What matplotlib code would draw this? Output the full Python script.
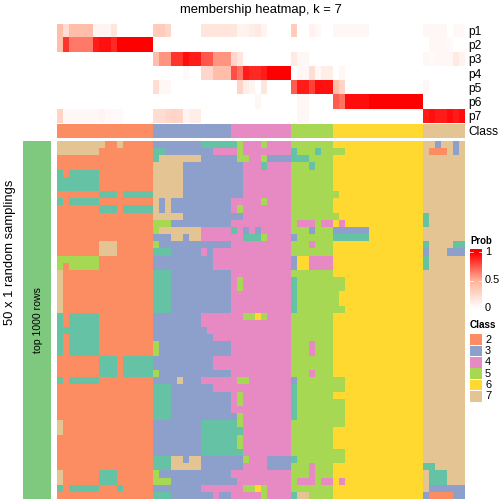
import numpy as np
import matplotlib
matplotlib.use("Agg")
import matplotlib.pyplot as plt
from matplotlib.colors import ListedColormap, LinearSegmentedColormap
from matplotlib.patches import Rectangle

plt.rcParams['font.family'] = ['Liberation Sans', 'DejaVu Sans']

TITLE = "membership heatmap, k = 7"
PROB_NAMES = ["p1", "p2", "p3", "p4", "p5", "p6", "p7"]
CLASS_IDS = [2, 3, 4, 5, 6, 7]
CLASS_COUNTS = [16, 13, 10, 7, 15, 7]
CLASS_COLORS = {1: "#66C2A5", 2: "#FC8D62", 3: "#8DA0CB", 4: "#E78AC3",
                5: "#A6D854", 6: "#FFD92F", 7: "#E5C494"}
PROB_TICKS = [0, 0.5, 1]

Y6 = "666666666666666"
T7 = "7777777"
G7 = "5555555"
P10 = "4444444444"
# rows: six class blocks per row (16, 13, 10, 7, 15, 7 columns)
ROWS = [
 "7777777722722222 3333333311111 1544454444 5555555 " + Y6 + " 7737737",
 "7777777222222222 1133333333444 4544444444 1555155 556666666666666 7222737",
 "2222222222222222 1777777733333 3554453333 1115555 " + Y6 + " " + T7,
 "2222222222222222 7777733333333 3344414444 5551555 " + Y6 + " " + T7,
 "1211111222222222 7777733333333 3344444444 " + G7 + " " + Y6 + " " + T7,
 "1111111222222222 7777733333333 3344444444 " + G7 + " " + Y6 + " " + T7,
 "1111111222222222 7777733333333 3344444444 " + G7 + " " + Y6 + " " + T7,
 "2222222111211111 7777733333333 3344444444 " + G7 + " 566666666666666 " + T7,
 "1211111222222222 7373333333333 4444454444 " + G7 + " " + Y6 + " " + T7,
 "2222222111211111 7373333333333 4544444444 " + G7 + " " + Y6 + " " + T7,
 "2222222222222222 7777733333333 3344444444 " + G7 + " 566666666666666 1777777",
 "2222222222222222 5553333333333 " + P10 + " 5444544 646666666666666 1777777",
 "2222222222222222 5777777744444 1434344444 5553555 333333666666666 " + T7,
 "2222222222222222 3337737744444 4411154444 3555555 111111666666666 " + T7,
 "2222222777222222 5333333333333 " + P10 + " 5554555 " + Y6 + " 1777711",
 "2222222777222222 1113333343444 " + P10 + " " + G7 + " " + Y6 + " 3777333",
 "5555555222222222 3333333333444 " + P10 + " 3664444 " + Y6 + " 1777777",
 "5255555222222222 3333333333444 " + P10 + " 3664444 " + Y6 + " 1777777",
 "7222222222222222 1113333333333 " + P10 + " " + G7 + " " + Y6 + " " + T7,
 "7222222222222222 1113333333333 4544444444 1555555 556666666666666 " + T7,
 "7222222222222222 1113333333333 4544444444 1555555 556666666666666 " + T7,
 "7222222222222222 1113333333333 " + P10 + " 1555555 566666666666666 " + T7,
 "7222222222222222 1113333333333 " + P10 + " 1555555 566666666666666 " + T7,
 "7222222222222222 1113333333333 " + P10 + " 1555555 556666666666666 " + T7,
 "1211111222222222 3333333344444 4455654444 " + G7 + " " + Y6 + " " + T7,
 "1211111222222222 3333333344444 " + P10 + " " + G7 + " " + Y6 + " " + T7,
 "1111111222222222 3333333334444 " + P10 + " " + G7 + " " + Y6 + " " + T7,
 "1211111222222222 3333333333444 " + P10 + " " + G7 + " " + Y6 + " " + T7,
 "1211111222222222 5333333333333 " + P10 + " 5554555 " + Y6 + " " + T7,
 "1211111222222222 5333333333333 " + P10 + " 5554555 " + Y6 + " " + T7,
 "2222222111211111 3333333333444 " + P10 + " " + G7 + " " + Y6 + " " + T7,
 "2222222111211111 3333333333444 " + P10 + " " + G7 + " " + Y6 + " " + T7,
 "2222222111211111 5333333333333 " + P10 + " 5554555 " + Y6 + " " + T7,
 "1211111222222222 3333733344444 4554444444 3555555 556666666666666 " + T7,
 "2222222222222222 1113333333444 " + P10 + " 1555555 556666666666666 " + T7,
 "2222222222222222 1113333333333 4544444444 1555555 " + Y6 + " " + T7,
 "2222222222222222 1113333333333 4544444444 1555555 556666666666666 " + T7,
 "2222222222222222 1113333333333 " + P10 + " 1555555 556666666666666 " + T7,
 "2222222222222222 1113333333333 3544444444 1555555 556666666666666 " + T7,
 "7222222222222222 3333333311111 1544444444 " + G7 + " 556666666666666 " + T7,
 "7222222222222222 3333333311111 1144444444 " + G7 + " " + Y6 + " " + T7,
 "2222222222222222 3333333311111 1544444444 " + G7 + " " + Y6 + " " + T7,
 "2222222222222222 3333333311111 1544444444 " + G7 + " " + Y6 + " " + T7,
 "2222222222222222 3333333311111 1144444444 " + G7 + " 556666666666666 " + T7,
 "2222222222222222 1117737733333 3354443333 1555555 556666666666666 " + T7,
 "2222222222222222 1117777733333 3344443333 5554555 " + Y6 + " 1177777",
 "7222222111222222 5333333333333 " + P10 + " 5554555 " + Y6 + " 7111777",
 "7222222111222222 5553333333333 3444444444 5444544 646666666666666 7111777",
 "1211111222122222 3333333344444 4455654444 " + G7 + " " + Y6 + " 7333333",
 "2222222222222222 1113333333433 4444454444 1775555 " + Y6 + " 3222233",
]

P1 = [.42,.22,.42,.42,.42,.42,.07,.07,.07,.17,0,0,0,0,0,0,
      .33,.33,.26,0,0,0,0,0,.17,.17,.17,.17,.17,.17,.07,.08,.11,.14,.07,0,0,0,0,
      .33,0,0,.08,.04,0,0,.05,.05,.05,.05,.05,.05,0,0,0,0,0,0,0,0,0,
      .05,.05,.05,.05,0,.04,.04]
P2 = [.42,.85,.66,.66,.66,.66,.92,.95,.95,.88,1,1,1,1,1,1] + [0]*46 + [.05,.05,.05,.03,0,0]
P3 = [0]*16 + [.42,.58,.58,.85,.85,.96,.92,.92,.75,.75,.58,.58,.58,.26,.17,0,0,0,0,0,0,0,0,
      .14,.05,.05] + [0]*19 + [.05,.03,.05,.05,.05,.14,.08]
P4 = [0]*21 + [.03,0,0,.26,.26,.42,.42,.42,.78,.68,.92,.88,.88,.92,1,1,1,1,
      0,.05,.05,.22,.05,.11,.11,0,.05] + [0]*20
P5 = [0]*16 + [.22,.05,.05] + [0]*11 + [.28,.11,.07,0,.17,0,0,0,0,
      .74,.92,.92,.82,.96,.95,.95,.42,.28] + [0]*13 + [.05,0,0,0,0,0,0]
P6 = [0]*33 + [.05] + [0]*6 + [.05,.05,0,0,0,0,.74,.68,.96,.96,.96,.96,1,1,1,1,1,1,1,1,1] + [0]*7
P7 = [.28,.05,.05,.05,.05,.05,.05,.07,.04,.03,.03,0,0,0,0,0,
      .22,.22,.26,.28,.26,.07,.11,.11] + [0]*16 + [.05,.05] + [0]*19 + [.92,.95,.92,.92,.96,.92,.96]

W = H = 504
fig = plt.figure(figsize=(7, 7), dpi=72, facecolor="white")

def ax_px(x0, y0, x1, y1):
    ax = fig.add_axes([x0 / W, 1 - y1 / H, (x1 - x0) / W, (y1 - y0) / H])
    ax.set_axis_off()
    return ax

def txt(x, y, s, **kw):
    kw.setdefault("va", "center")
    kw.setdefault("ha", "left")
    fig.text(x / W, 1 - y / H, s, **kw)

prob_cmap = LinearSegmentedColormap.from_list("prob", ["#FFFFFF", "#FFB299", "#FF0000"])
ids = sorted(CLASS_COLORS)
class_cmap = ListedColormap([CLASS_COLORS[i] for i in ids])

prob = np.array([P1, P2, P3, P4, P5, P6, P7], dtype=float)
ax_px(57, 24, 465, 123.3).imshow(prob, cmap=prob_cmap, vmin=0, vmax=1,
                                 aspect="auto", interpolation="nearest")

class_row = np.repeat(CLASS_IDS, CLASS_COUNTS)[None, :]
ax_px(57, 124, 465, 138).imshow(class_row, cmap=class_cmap, vmin=.5, vmax=7.5,
                                aspect="auto", interpolation="nearest")

matrix = np.array([[int(c) for c in r.replace(" ", "")] for r in ROWS])
ax_px(57, 141, 465, 499).imshow(matrix, cmap=class_cmap, vmin=.5, vmax=7.5,
                                aspect="auto", interpolation="nearest")

# row annotation bar
ax = ax_px(23, 141, 51, 499)
ax.add_patch(Rectangle((0, 0), 1, 1, color="#7FC97F", transform=ax.transAxes))

txt(261, 10, TITLE, ha="center", fontsize=13)
for i, n in enumerate(PROB_NAMES):
    txt(468.5, 32 + i * 14.2, n, fontsize=12)
txt(468.5, 132, "Class", fontsize=12)
txt(10, 252, "50 x 1 random samplings", rotation=90, ha="center", fontsize=13)
txt(38, 320, "top 1000 rows", rotation=90, ha="center", fontsize=10.5)

# Prob legend
txt(470, 241, "Prob", fontsize=9.5, fontweight="bold")
ax = ax_px(470, 249, 482, 312)
grad = np.linspace(1.06, -0.06, 128)[:, None]
ax.imshow(np.clip(grad, 0, 1), cmap=prob_cmap, vmin=0, vmax=1, aspect="auto",
          extent=[0, 1, -0.06, 1.06], origin="upper")
ax.set_ylim(-0.06, 1.06)
for t in PROB_TICKS:
    ax.plot([0, .22], [t, t], color="white", lw=.7)
    ax.plot([.78, 1], [t, t], color="white", lw=.7)
    txt(485, 311.5 - ((t + 0.06) / 1.12) * 63, f"{t:g}", fontsize=11)

# Class legend
txt(470, 325, "Class", fontsize=10, fontweight="bold")
ax = ax_px(470, 334, 482, 402)
ax.set_xlim(0, 1)
ax.set_ylim(len(CLASS_IDS), 0)
for i, c in enumerate(CLASS_IDS):
    ax.add_patch(Rectangle((0.03, i + .03), .94, .94, facecolor=CLASS_COLORS[c], edgecolor="none"))
    txt(485, 339.7 + i * 11.33, str(c), fontsize=11)

fig.savefig("out.png", dpi=72)
